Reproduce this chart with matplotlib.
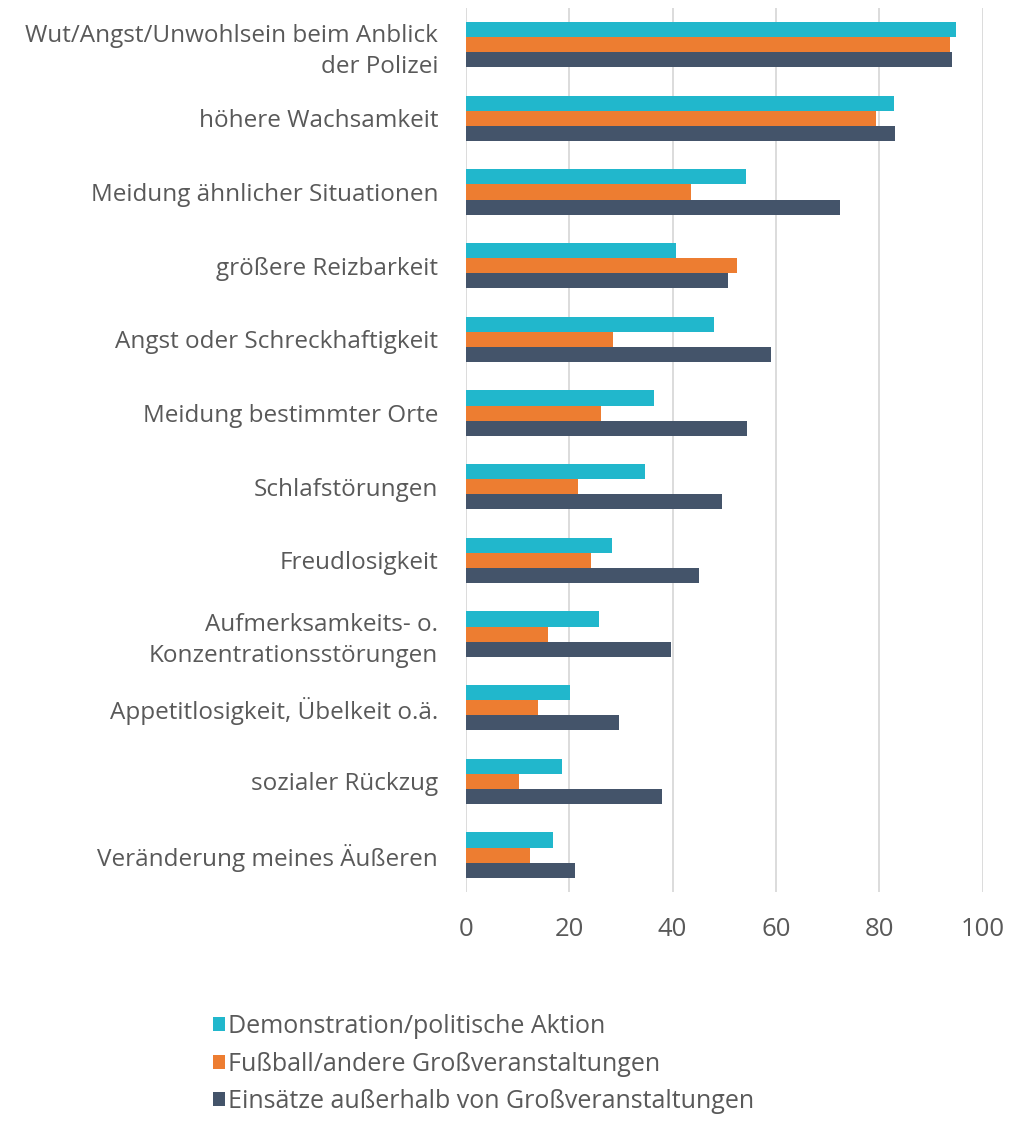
import matplotlib.pyplot as plt
import numpy as np

plt.rcParams['font.family'] = ['Open Sans', 'DejaVu Sans']

categories = ["Wut/Angst/Unwohlsein beim Anblick\nder Polizei",
              "höhere Wachsamkeit",
              "Meidung ähnlicher Situationen",
              "größere Reizbarkeit",
              "Angst oder Schreckhaftigkeit",
              "Meidung bestimmter Orte",
              "Schlafstörungen",
              "Freudlosigkeit",
              "Aufmerksamkeits- o.\nKonzentrationsstörungen",
              "Appetitlosigkeit, Übelkeit o.ä.",
              "sozialer Rückzug",
              "Veränderung meines Äußeren"]

demo = [94.8, 82.9, 54.2, 40.7, 48.0, 36.3, 34.7, 28.2, 25.7, 20.1, 18.6, 16.9]
fussball = [93.6, 79.4, 43.6, 52.5, 28.4, 26.1, 21.6, 24.2, 15.8, 14.0, 10.3, 12.4]
einsaetze = [94.0, 83.1, 72.3, 50.8, 59.1, 54.3, 49.6, 45.2, 39.6, 29.6, 38.0, 21.1]

series_names = ["Demonstration/politische Aktion",
                "Fußball/andere Großveranstaltungen",
                "Einsätze außerhalb von Großveranstaltungen"]
colors = ["#21B7CC", "#ED7D31", "#44546A"]

text_col = "#595959"

fig = plt.figure(figsize=(10.13, 11.22), dpi=100)
ax = fig.add_axes([0.46, 0.205, 0.51, 0.788])

y = np.arange(len(categories))
h = 0.205
for i, (vals, name, c) in enumerate(zip([demo, fussball, einsaetze], series_names, colors)):
    ax.barh(y + (i - 1) * h, vals, height=h, color=c, label=name, zorder=3)

ax.set_ylim(len(categories) - 0.5, -0.5)
ax.set_xlim(0, 100)
ax.set_xticks([0, 20, 40, 60, 80, 100])
ax.set_yticks(y)
ax.set_yticklabels(categories, ha='right', fontsize=17.5, color=text_col, linespacing=1.4)
ax.tick_params(axis='both', length=0, colors=text_col)
ax.tick_params(axis='y', pad=20)
ax.tick_params(axis='x', pad=18, labelsize=18.5)
ax.grid(axis='x', color='#D9D9D9', linewidth=1.3, zorder=0)
for s in ax.spines.values():
    s.set_visible(False)

leg = fig.legend(loc='upper left', bbox_to_anchor=(0.2, 0.105), frameon=False,
                 fontsize=18, handlelength=0.5, handleheight=0.5, handletextpad=0.12,
                 labelspacing=0.5, borderaxespad=0)
for t in leg.get_texts():
    t.set_color(text_col)

plt.savefig("out.png", dpi=100)
